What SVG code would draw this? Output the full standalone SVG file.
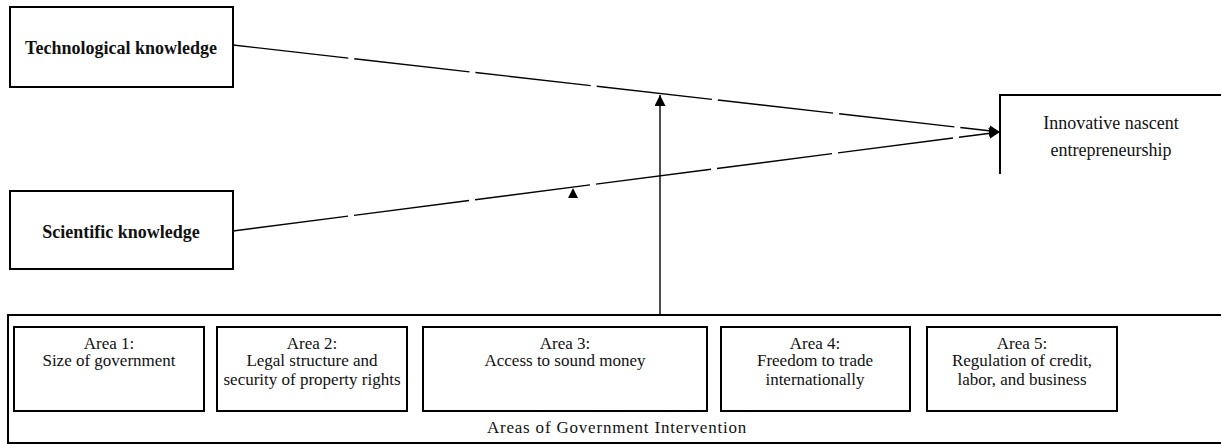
<svg xmlns="http://www.w3.org/2000/svg" width="1221" height="444" viewBox="0 0 1221 444">
<style>
.box{fill:#fff;stroke:#000;stroke-width:2}
.t{font-family:"Liberation Serif","Times New Roman",serif;font-size:17px;fill:#111;text-anchor:middle}
.b{font-weight:bold;font-size:18px}
.c{fill:none;stroke:#000;stroke-width:1.4}
.d{stroke-dasharray:116 6}
</style>
<defs>
<marker id="ah" viewBox="0 0 10 10" refX="10" refY="5" markerWidth="11" markerHeight="11" markerUnits="userSpaceOnUse" orient="auto">
<path d="M0,0 L10,5 L0,10 z" fill="#000"/>
</marker>
</defs>
<rect width="1221" height="444" fill="#fff"/>
<g id="intervention">
<path class="box" d="M1230,315 H8 V443 H1230" fill="none"/>
<text class="t" x="617" y="433" style="letter-spacing:0.8px">Areas of Government Intervention</text>
</g>
<g id="tech">
<rect class="box" x="10" y="7" width="223" height="80"/>
<text class="t b" x="121" y="54">Technological knowledge</text>
</g>
<g id="sci">
<rect class="box" x="10" y="191" width="223" height="78"/>
<text class="t b" x="121" y="238">Scientific knowledge</text>
</g>
<g id="innov">
<path class="box" d="M1230,95 H1000 V174" fill="none"/>
<text class="t" x="1111" y="129" style="font-size:18px">Innovative nascent</text>
<text class="t" x="1111" y="156" style="font-size:18px">entrepreneurship</text>
</g>
<g id="area1">
<rect class="box" x="14" y="327" width="190" height="84"/>
<text class="t" x="109" y="349">Area 1:</text>
<text class="t" x="109" y="366">Size of government</text>
</g>
<g id="area2">
<rect class="box" x="217" y="327" width="190" height="84"/>
<text class="t" x="312" y="349">Area 2:</text>
<text class="t" x="312" y="366">Legal structure and</text>
<text class="t" x="312" y="385">security of property rights</text>
</g>
<g id="area3">
<rect class="box" x="423" y="327" width="284" height="84"/>
<text class="t" x="565" y="349">Area 3:</text>
<text class="t" x="565" y="366">Access  to sound money</text>
</g>
<g id="area4">
<rect class="box" x="721" y="327" width="189" height="84"/>
<text class="t" x="815" y="349">Area 4:</text>
<text class="t" x="815" y="366">Freedom to trade</text>
<text class="t" x="815" y="385">internationally</text>
</g>
<g id="area5">
<rect class="box" x="927" y="327" width="190" height="84"/>
<text class="t" x="1022" y="349">Area 5:</text>
<text class="t" x="1022" y="366">Regulation of credit,</text>
<text class="t" x="1022" y="385">labor, and business</text>
</g>
<g id="connectors">
<line class="c d" x1="233" y1="45" x2="1000" y2="132" marker-end="url(#ah)"/>
<line class="c d" x1="233" y1="231" x2="1000" y2="132" marker-end="url(#ah)"/>
<line class="c" x1="660" y1="315" x2="660" y2="95" stroke-width="2" marker-end="url(#ah)"/>
<path d="M573,188 L578,198 L568,198 z" fill="#000"/>
</g>
</svg>
